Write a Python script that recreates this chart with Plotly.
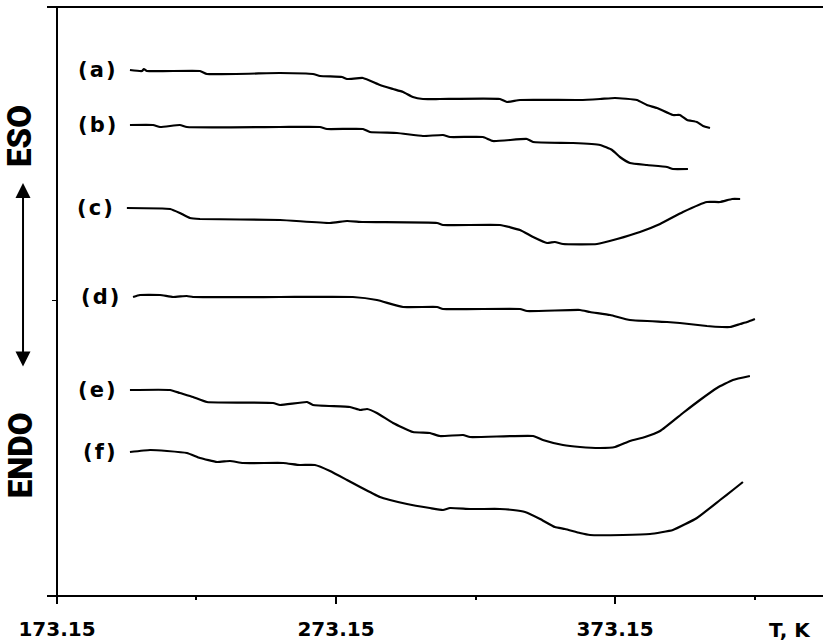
import plotly.graph_objects as go

# Temperature (K) and DSC signal (arbitrary units) for each trace
T_a = [199.3, 203.6, 204.3, 205.4, 224.4, 226.9, 253.1, 264.9, 267.4, 275.3, 277.1, 282.8, 288.9,
       293.6, 297.2, 300.7, 304.3, 310.4, 331.9, 334.4, 339.1, 360.6, 367.8, 373.15, 381.0, 384.6,
       388.2, 393.9, 396.4, 399.0, 402.5, 404.7, 407.2]
S_a = [52.5, 52.4, 52.6, 52.4, 52.4, 52.1, 52.2, 52.1, 51.9, 51.8, 51.6, 51.7, 51.0,
       50.6, 50.3, 49.8, 49.6, 49.6, 49.6, 49.3, 49.5, 49.5, 49.6, 49.7, 49.5, 49.0,
       48.7, 48.0, 48.0, 47.5, 47.3, 46.9, 46.7]

T_b = [199.3, 207.6, 210.1, 217.2, 219.7, 253.1, 267.4, 269.9, 282.8, 285.3, 295.0, 304.3, 311.5,
       314.0, 325.8, 329.4, 341.6, 343.8, 358.1, 367.8, 372.1, 374.9, 378.5, 384.6, 391.8, 393.9, 399.3]
S_b = [47.0, 47.0, 46.8, 47.0, 46.8, 46.8, 46.8, 46.6, 46.6, 46.3, 46.2, 45.9, 46.0,
       45.8, 45.8, 45.4, 45.6, 45.3, 45.2, 45.0, 44.5, 43.8, 43.2, 43.0, 42.8, 42.6, 42.6]

T_c = [198.2, 213.7, 217.2, 220.8, 224.4, 253.1, 271.0, 277.1, 282.8, 309.4, 311.5, 331.9, 339.1,
       343.8, 348.8, 351.6, 354.5, 366.7, 373.9, 382.1, 389.3, 397.5, 406.1, 410.8, 415.1, 418.0]
S_c = [38.7, 38.6, 38.2, 37.7, 37.6, 37.5, 37.2, 37.4, 37.3, 37.2, 37.0, 37.0, 36.5,
       35.8, 35.2, 35.3, 35.1, 35.1, 35.6, 36.3, 37.1, 38.3, 39.3, 39.3, 39.6, 39.6]

T_d = [200.4, 202.9, 210.1, 214.7, 219.7, 221.9, 253.1, 279.2, 287.8, 297.2, 309.4, 311.5, 339.1,
       341.6, 360.6, 364.2, 371.4, 378.5, 391.8, 396.4, 406.1, 411.5, 414.4, 418.0, 420.5, 423.3]
S_d = [29.8, 30.0, 30.0, 29.8, 29.9, 29.8, 29.8, 29.8, 29.5, 28.8, 28.8, 28.6, 28.6,
       28.4, 28.5, 28.3, 28.0, 27.5, 27.3, 27.2, 26.9, 26.8, 26.8, 27.1, 27.3, 27.6]

T_e = [199.3, 213.7, 217.2, 221.9, 226.9, 250.6, 253.1, 262.8, 264.9, 278.2, 281.8, 284.3, 287.8,
       293.6, 300.7, 306.8, 310.4, 318.7, 321.2, 343.8, 347.3, 354.5, 360.6, 367.8, 373.15, 378.5,
       383.9, 389.3, 397.5, 403.6, 409.7, 415.4, 421.5]
S_e = [20.5, 20.5, 20.2, 19.8, 19.3, 19.2, 19.0, 19.3, 19.0, 18.8, 18.5, 18.6, 18.2,
       17.2, 16.3, 16.2, 15.9, 16.0, 15.8, 15.9, 15.5, 15.0, 14.8, 14.7, 14.8, 15.4,
       15.8, 16.4, 18.2, 19.5, 20.7, 21.5, 21.9]

T_f = [199.3, 206.5, 212.6, 219.7, 224.4, 230.5, 235.2, 239.8, 254.2, 260.2, 265.6, 271.0, 277.1,
       281.8, 288.9, 292.5, 298.6, 306.8, 311.5, 314.0, 321.2, 331.9, 336.6, 340.9, 346.3, 351.6,
       355.2, 360.6, 364.2, 376.0, 385.7, 393.9, 402.5, 410.8, 415.4, 419.0]
S_f = [14.3, 14.5, 14.4, 14.2, 13.7, 13.3, 13.4, 13.2, 13.2, 13.0, 13.0, 12.4, 11.5,
       10.8, 9.8, 9.5, 9.1, 8.7, 8.5, 8.7, 8.6, 8.6, 8.5, 8.3, 7.6, 6.8,
       6.6, 6.2, 6.0, 6.0, 6.1, 6.5, 7.7, 9.5, 10.5, 11.3]

curve_names = ["(a)", "(b)", "(c)", "(d)", "(e)", "(f)"]
curve_T = [T_a, T_b, T_c, T_d, T_e, T_f]
curve_S = [S_a, S_b, S_c, S_d, S_e, S_f]

x_ticks = [173.15, 273.15, 373.15]
x_ticktext = ["173.15", "273.15", "373.15"]
x_unit = "T, K"

BOLD = dict(family="DejaVu Sans", size=20, color="black", weight="bold")
LABEL = dict(family="DejaVu Sans", size=21, color="black", weight="bold")

fig = go.Figure()
for name, t, s in zip(curve_names, curve_T, curve_S):
    fig.add_trace(go.Scatter(x=t, y=s, mode="lines", name=name,
                             line=dict(color="black", width=2.2, shape="spline", smoothing=0.4),
                             showlegend=False))
    # curve label just left of the trace start, letters slightly spaced
    spaced = "\u200a".join(name)
    fig.add_annotation(x=t[0] - 4.4, y=s[0], text=spaced, showarrow=False,
                       xanchor="right", yanchor="middle", font=LABEL)

# unit label at the right end of the temperature axis
fig.add_annotation(xref="x", yref="paper", x=435.9, y=-0.0596, text=x_unit,
                   showarrow=False, xanchor="center", yanchor="middle", font=BOLD)

# exo / endo direction indicators
side_font = dict(family="Roboto", size=33, color="black", weight=900)
fig.add_annotation(xref="paper", yref="paper", x=-0.0348, y=0.782, text="ESO",
                   textangle=-90, showarrow=False, xanchor="center", yanchor="middle",
                   font=side_font)
fig.add_annotation(xref="paper", yref="paper", x=-0.0348, y=0.238, text="ENDO",
                   textangle=-90, showarrow=False, xanchor="center", yanchor="middle",
                   font=side_font)
fig.add_annotation(xref="paper", yref="paper", x=-0.0309, y=0.7019, ax=0, ay=185,
                   text="", showarrow=True, arrowhead=2, startarrowhead=2,
                   arrowside="end+start", arrowsize=1.5, startarrowsize=1.5,
                   arrowwidth=2, arrowcolor="black", standoff=0, startstandoff=0)

fig.update_layout(
    width=823, height=641,
    margin=dict(l=47, r=0, t=8, b=46),
    plot_bgcolor="white", paper_bgcolor="white",
    xaxis=dict(range=[169.57, 447.7], showgrid=False, zeroline=False,
               showline=True, linecolor="black", linewidth=2, mirror=True,
               tickvals=x_ticks, ticktext=x_ticktext, ticks="outside",
               ticklen=7, tickwidth=2, tickcolor="black", tickfont=BOLD,
               ticklabelstandoff=8,
               minor=dict(tickvals=[223.15, 323.15, 423.15], ticks="outside",
                          ticklen=3, tickwidth=2, tickcolor="black")),
    yaxis=dict(range=[0, 58.7], showgrid=False, zeroline=False,
               anchor="free", position=0.0129,
               showline=True, linecolor="black", linewidth=2,
               tickvals=[29.5], showticklabels=False, ticks="outside",
               ticklen=4, tickwidth=1, tickcolor="black"),
)

fig.write_html("out.html")
